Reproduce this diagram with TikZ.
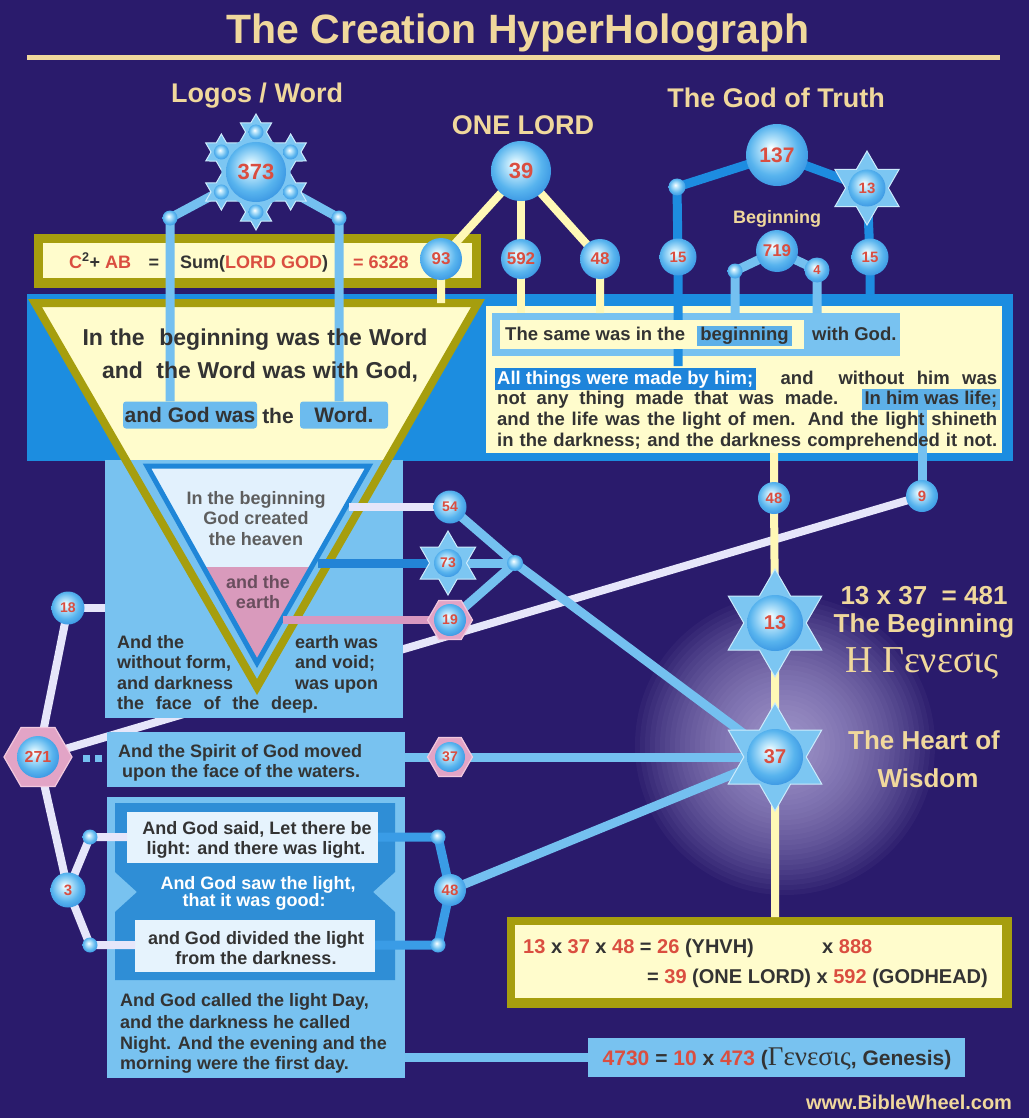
\documentclass[tikz,border=0pt]{standalone}
\usepackage{fontspec}
\setmainfont{Liberation Sans}
\newfontfamily\grk{Liberation Serif}
\usetikzlibrary{shapes.geometric}
\pgfdeclarelayer{Lzero}
\pgfdeclarelayer{Lone}
\pgfdeclarelayer{Ltwo}
\pgfsetlayers{Lzero,Lone,Ltwo,main}
\definecolor{bg}{HTML}{2A1B6C}
\definecolor{tan}{HTML}{F0D89C}
\definecolor{band}{HTML}{1C8DE0}
\definecolor{lbox}{HTML}{78C2F0}
\definecolor{cream}{HTML}{FFFCCC}
\definecolor{olive}{HTML}{A69E0E}
\definecolor{numred}{HTML}{DA4E40}
\definecolor{txt}{HTML}{333333}
\definecolor{gtxt}{HTML}{5E5E5E}
\definecolor{pinktxt}{HTML}{6A4E5E}
\definecolor{lbline}{HTML}{74C0F0}
\definecolor{mbline}{HTML}{1D8CE0}
\definecolor{mbline2}{HTML}{3A9CE6}
\definecolor{tri73}{HTML}{2384D6}
\definecolor{crline}{HTML}{FFF8B6}
\definecolor{whline}{HTML}{E6E6FA}
\definecolor{pkline}{HTML}{D898C0}
\definecolor{hlblue}{HTML}{1E84DA}
\definecolor{hllight}{HTML}{5DB0E8}
\definecolor{hllight2}{HTML}{6CBBEE}
\definecolor{pinkfill}{HTML}{D99ABC}
\definecolor{heaven}{HTML}{E2F1FD}
\definecolor{triblue}{HTML}{1F86D8}
\definecolor{hexpink}{HTML}{E2A4C6}
\definecolor{hexedge}{HTML}{F2C8DE}
\definecolor{starfill}{HTML}{7CC6F2}
\definecolor{staredge}{HTML}{CDEBFC}
\definecolor{dkbox}{HTML}{2F8ED6}
\definecolor{wbox}{HTML}{E6F3FD}
\definecolor{bubhi}{HTML}{C4EAFC}
\definecolor{bubmid}{HTML}{58B4EE}
\definecolor{bubedge}{HTML}{338FE0}
\definecolor{bubrim}{HTML}{5AAEEA}
\definecolor{glowc}{HTML}{D2C8F4}
\pgfdeclareradialshading{bubble}{\pgfpoint{-5bp}{6bp}}{color(0bp)=(white); color(6bp)=(bubhi); color(20bp)=(bubmid); color(31bp)=(bubedge); color(35bp)=(bubrim); color(50bp)=(bubrim)}
\newcommand\myfs[1]{\fontsize{#1}{#1}\selectfont}
\newcommand\rn[1]{\textcolor{numred}{#1}}
\setlength{\fboxsep}{2.5pt}
\tikzset{
 bub/.style={circle, shade, shading=bubble, inner sep=0pt, outer sep=0pt, minimum size=#1, text=numred, font=\bfseries\myfs{15}},
 dotn/.style={circle, shade, shading=bubble, inner sep=0pt, minimum size=15pt},
 hexn/.style={regular polygon, regular polygon sides=6, fill=hexpink, draw=hexedge, line width=1.2pt, inner sep=0pt, minimum size=#1},
 hstar/.style={star, star points=6, star point ratio=1.732, fill=starfill, draw=staredge, line width=1pt, inner sep=0pt, minimum size=#1},
 hdr/.style={text=tan, font=\bfseries\myfs{27}, anchor=base, inner sep=0pt},
 tanr/.style={text=tan, font=\bfseries\myfs{26}, anchor=base, inner sep=0pt},
 body/.style={text=txt, font=\bfseries\myfs{18}, anchor=base west, inner sep=0pt},
 bodyp/.style={text=txt, font=\bfseries\myfs{18.5}, anchor=base west, inner sep=0pt},
 bodyc/.style={text=txt, font=\bfseries\myfs{18}, anchor=base, inner sep=0pt},
 tri/.style={text=txt, font=\bfseries\myfs{23}, anchor=base, inner sep=0pt},
 inn/.style={text=gtxt, font=\bfseries\myfs{18}, anchor=base, inner sep=0pt},
 boxn/.style={rectangle, inner sep=0pt, outer sep=0pt, anchor=north west, fill=#1},
 hlbox/.style={fill=hllight2, rounded corners=3pt, inner sep=0pt, text=txt, font=\bfseries\myfs{21}},
 lbl/.style={draw=lbline, line width=9pt},
 mbl/.style={draw=mbline, line width=9pt},
 crl/.style={draw=crline, line width=8pt},
 whl/.style={draw=whline, line width=8pt},
 pkl/.style={draw=pkline, line width=8pt},
}
\begin{document}
\begin{tikzpicture}[x=1pt,y=-1pt]
\begin{pgfonlayer}{Lzero}
\fill[bg] (0,0) rectangle (1029,1118);
\foreach \r in {150,145,...,10} \fill[glowc, opacity=0.045] (785,745) circle[radius=\r pt];
\end{pgfonlayer}
\useasboundingbox (0,0) rectangle (1029,1118);

% ---------- boxes ----------
\begin{pgfonlayer}{Lone}
\node[boxn=olive, minimum width=447pt, minimum height=54pt] (eqouter) at (34,234) {};
\node[boxn=cream, minimum width=429pt, minimum height=35pt] (eqinner) at (43,243) {};
\node[boxn=band, minimum width=986pt, minimum height=167pt] (band) at (27,294) {};
\node[boxn=cream, minimum width=516pt, minimum height=147pt] (parabox) at (486,306) {};
\node[boxn=lbox, minimum width=408pt, minimum height=43pt] (samereg) at (492,313) {};
\fill[cream] (35,303) -- (478,303) -- (257,687) -- cycle;
\node[boxn=lbox, minimum width=298pt, minimum height=258pt] (earthbox) at (105,460) {};
\node[boxn=lbox, minimum width=298pt, minimum height=55pt] (spiritbox) at (107,732) {};
\node[boxn=lbox, minimum width=298pt, minimum height=281pt] (lowbox) at (107,797) {};
\fill[dkbox] (115,803) -- (395,803) -- (395,872) -- (373,892) -- (395,912) -- (395,980)
   -- (115,980) -- (115,912) -- (137,892) -- (115,872) -- cycle;
\node[boxn=wbox, minimum width=251pt, minimum height=51pt] (whitetop) at (127,812) {};
\node[boxn=wbox, minimum width=240pt, minimum height=52pt] (whitebot) at (135,920) {};
\fill[heaven] (147,466) -- (369,466) -- (257,663) -- cycle;
\begin{scope}
\clip (147,466) -- (369,466) -- (257,663) -- cycle;
\fill[pinkfill] (100,567) rectangle (400,700);
\end{scope}
\draw[triblue, line width=5pt, line join=miter] (147,466) -- (369,466) -- (257,663) -- cycle;
\draw[olive, line width=8pt, line join=miter] (35,303) -- (478,303) -- (257,687) -- cycle;
\node[boxn=olive, minimum width=505pt, minimum height=91pt] (mathouter) at (507,917) {};
\node[boxn=cream, minimum width=487pt, minimum height=73pt] (mathinner) at (515,925) {};
\node[boxn=lbox, minimum width=377pt, minimum height=39pt] (gbox) at (588,1038) {};
\end{pgfonlayer}

% ---------- titles ----------
\node[text=tan, font=\bfseries\myfs{41}, anchor=base, inner sep=0pt] (title) at (518,44) {The Creation HyperHolograph};
\draw[tan, line width=5pt] (27,58) -- (1000,58);
\node[hdr] (hlogos) at (257,103) {Logos / Word};
\node[hdr] (hone) at (523,135) {ONE LORD};
\node[hdr] (htruth) at (776,108) {The God of Truth};
\node[text=tan, font=\bfseries\myfs{18}, anchor=base, inner sep=0pt] (beg) at (777,223) {Beginning};

% ---------- snowflake 373 ----------
\node[hstar=36pt] (sfA) at (256,132) {};
\node[hstar=36pt] (sfB) at (290.64,152) {};
\node[hstar=36pt] (sfC) at (290.64,192) {};
\node[hstar=36pt] (sfD) at (256,212) {};
\node[hstar=36pt] (sfE) at (221.36,192) {};
\node[hstar=36pt] (sfF) at (221.36,152) {};
\fill[starfill] (256,132) -- (290.64,152) -- (290.64,192) -- (256,212) -- (221.36,192) -- (221.36,152) -- cycle;
\node[bub=15pt] (sbA) at (256,132) {};
\node[bub=15pt] (sbB) at (290.64,152) {};
\node[bub=15pt] (sbC) at (290.64,192) {};
\node[bub=15pt] (sbD) at (256,212) {};
\node[bub=15pt] (sbE) at (221.36,192) {};
\node[bub=15pt] (sbF) at (221.36,152) {};
\node[bub=60pt, font=\bfseries\myfs{22}] (b373) at (256,172) {373};
\node[dotn] (dotL) at (170,218) {};
\node[dotn] (dotR) at (339,218) {};

% ---------- ONE LORD ----------
\node[bub=60pt, font=\bfseries\myfs{22}] (b39) at (521,171) {39};
\node[bub=42pt, font=\bfseries\myfs{17}] (b93) at (441,259) {93};
\node[bub=40pt, font=\bfseries\myfs{17}] (b592) at (521,259) {592};
\node[bub=40pt, font=\bfseries\myfs{17}] (b48t) at (600,259) {48};

% ---------- God of Truth ----------
\node[bub=62pt, font=\bfseries\myfs{21}] (b137) at (777,155) {137};
\node[dotn, minimum size=17pt] (dotG) at (677,187) {};
\node[bub=37pt] (b15L) at (678,257) {15};
\node[hstar=74pt] (s13t) at (867,188) {};
\node[bub=37pt] (b13t) at (867,188) {13};
\node[bub=37pt] (b15R) at (870,257) {15};
\node[bub=42pt, font=\bfseries\myfs{17}] (b719) at (777,251) {719};
\node[dotn] (dotB) at (735,271) {};
\node[bub=25pt, font=\bfseries\myfs{13}] (b4) at (817,270) {4};

% ---------- equation box ----------
\node[body] (eq1) at (69,268) {\rn{C}\textsuperscript{2}+ \rn{AB}};
\node[bodyc] (eq2) at (154,268) {=};
\node[body] (eq3) at (180,268) {Sum(\rn{LORD GOD})};
\node[body] (eq4) at (353,268) {\rn{= 6328}};

% ---------- triangle ----------
\node[tri] (t1) at (255,345) {\makebox[345pt][s]{In the\ \ beginning was the Word}};
\node[tri] (t2) at (260,378) {\makebox[316pt][s]{and\ \ the Word was with God,}};
\node[hlbox, minimum width=134pt, minimum height=27pt] (gwas) at (190,415) {and God was};
\node[tri, font=\bfseries\myfs{21}] (tthe) at (278,423) {the};
\node[hlbox, minimum width=88pt, minimum height=27pt] (wordbox) at (344,415) {Word.};
\node[inn] (i1) at (256,504) {In the beginning};
\node[inn] (i2) at (256,524) {God created};
\node[inn] (i3) at (256,545) {the heaven};
\node[inn, text=pinktxt] (i4) at (258,588) {and the};
\node[inn, text=pinktxt] (i5) at (258,608) {earth};
\node[body] (e1) at (117,648) {And the};
\node[body] (e2) at (117,668) {without form,};
\node[body] (e3) at (117,689) {and darkness};
\node[body] (e4) at (117,709) {\makebox[201pt][s]{the face of the deep.}};
\node[body] (e5) at (295,648) {earth was};
\node[body] (e6) at (295,668) {and void;};
\node[body] (e7) at (295,689) {was upon};

% ---------- right text block ----------
\node[boxn=cream, minimum width=304pt, minimum height=29pt] (samecream) at (500,320) {};
\node[bodyp] (ps) at (505,340) {The same was in the};
\node[fill=hllight, minimum width=95pt, minimum height=20pt, inner sep=0pt, text=txt, font=\bfseries\myfs{18.5}] (begbox) at (744.5,336) {beginning};
\node[bodyp] (pw) at (812,340) {with God.};
\node[bodyp] (p1) at (494.5,384) {\makebox[502.5pt][s]{\colorbox{hlblue}{\textcolor{white}{All things were made by him;}}\ \ and\ \ without him was}};
\node[bodyp] (p2) at (497,404.5) {\makebox[502.5pt][s]{not any thing made that was made. \colorbox{hllight}{In him was life;}}};
\node[bodyp] (p3) at (497,425) {\makebox[500pt][s]{and the life was the light of men. And the light shineth}};
\node[bodyp] (p4) at (497,446) {\makebox[500pt][s]{in the darkness; and the darkness comprehended it not.}};

% ---------- left / middle nodes ----------
\node[bub=33pt, font=\bfseries\myfs{14}] (b54) at (450,507) {54};
\node[hstar=64pt] (s73) at (448,563) {};
\node[bub=28pt, font=\bfseries\myfs{14}] (b73) at (448,563) {73};
\node[hexn=45pt] (h19) at (450,620) {};
\node[bub=32pt, font=\bfseries\myfs{14}] (b19) at (450,620) {19};
\node[dotn, minimum size=16pt] (dotM) at (515,563) {};
\node[bub=33pt, font=\bfseries\myfs{14}] (b18) at (68,608) {18};
\node[hexn=68pt] (h271) at (38,757) {};
\node[bub=42pt, font=\bfseries\myfs{16}] (b271) at (38,757) {271};
\node[fill=lbline, minimum size=7pt, inner sep=0pt] (sq1) at (86,758) {};
\node[fill=lbline, minimum size=7pt, inner sep=0pt] (sq2) at (98,758) {};
\node[hexn=45pt] (h37) at (450,757) {};
\node[bub=30pt, font=\bfseries\myfs{14}] (b37h) at (450,757) {37};
\node[bub=35pt] (b3) at (68,890) {3};
\node[dotn] (dotLa) at (90,837) {};
\node[dotn] (dotLb) at (90,945) {};
\node[dotn] (dotRa) at (438,837) {};
\node[dotn] (dotRb) at (438,945) {};
\node[bub=32pt] (b48l) at (450,890) {48};

% ---------- lower box texts ----------
\node[body] (sp1) at (118,757) {And the Spirit of God moved};
\node[body] (sp2) at (122,777) {upon the face of the waters.};
\node[bodyc] (l1) at (257,834) {And God said, Let there be};
\node[bodyc] (l2) at (256,854) {light: and there was light.};
\node[bodyc, text=white] (l3) at (258,889) {And God saw the light,};
\node[bodyc, text=white] (l4) at (254,906) {that it was good:};
\node[bodyc] (l5) at (256,944) {and God divided the light};
\node[bodyc] (l6) at (256,964) {from the darkness.};
\node[body] (l7) at (120,1006) {And God called the light Day,};
\node[body] (l8) at (120,1028) {and the darkness he called};
\node[body] (l9) at (120,1049) {Night. And the evening and the};
\node[body] (l10) at (120,1069) {morning were the first day.};

% ---------- right column ----------
\node[bub=32pt] (b48m) at (774,498) {48};
\node[bub=32pt] (b9) at (922,496) {9};
\node[hstar=108pt] (s13) at (775,623) {};
\node[bub=56pt, font=\bfseries\myfs{20}] (b13) at (775,623) {13};
\node[hstar=108pt] (s37) at (775,757) {};
\node[bub=56pt, font=\bfseries\myfs{20}] (b37) at (775,757) {37};
\node[tanr] (r1) at (924,604) {13 x 37\ \ = 481};
\node[tanr] (r2) at (924,632) {The Beginning};
\node[text=tan, font=\grk\myfs{38}, anchor=base, inner sep=0pt] (r3) at (922,672) {Η Γενεσις};
\node[tanr] (r4) at (924,749) {The Heart of};
\node[tanr] (r5) at (928,787) {Wisdom};

% ---------- bottom boxes ----------
\node[body, font=\bfseries\myfs{20}] (m1) at (523,953) {\rn{13} x \rn{37} x \rn{48} = \rn{26} (YHVH)};
\node[body, font=\bfseries\myfs{20}] (m2) at (822,953) {x \rn{888}};
\node[body, font=\bfseries\myfs{20}] (m3) at (647,983) {= \rn{39} (ONE LORD) x \rn{592} (GODHEAD)};
\node[text=txt, font=\bfseries\myfs{21}, anchor=base, inner sep=0pt] (gtxt) at (777,1065) {\rn{4730} = \rn{10} x \rn{473} ({\mdseries\grk\myfs{27}Γενεσις}, Genesis)};
\node[text=tan, font=\bfseries\myfs{20}, anchor=base, inner sep=0pt] (web) at (909,1109) {www.BibleWheel.com};

% ---------- free ends ----------
\coordinate (tritop) at (441,303);
\coordinate (allpt) at (678,366);
\coordinate (lifept) at (922,405);
\coordinate (heavenR) at (349,507);
\coordinate (c73) at (318,563);
\coordinate (c19) at (283,620);

% ---------- connectors under boxes ----------
\begin{pgfonlayer}{Lzero}
\draw[whl] (h271.center) -- (b9.center);
\end{pgfonlayer}

% ---------- connectors ----------
\begin{pgfonlayer}{Ltwo}
\draw[lbl] (b373.center) -- (dotL.center) -- (dotL |- gwas.north);
\draw[lbl] (b373.center) -- (dotR.center) -- (dotR |- wordbox.north);
\draw[crl] (b39.center) -- (b93.center) -- (b93 |- tritop);
\draw[crl] (b39.center) -- (b592.center) -- (b592 |- samereg.north);
\draw[crl] (b39.center) -- (b48t.center) -- (b48t |- samereg.north);
\draw[mbl] (b137.center) -- (dotG.center) -- (b15L.center) -- (b15L |- allpt);
\draw[mbl] (b137.center) -- (s13t.center) -- (b15R.center) -- (b15R |- band.north);
\draw[lbl] (b719.center) -- (dotB.center) -- (dotB |- begbox.north);
\draw[lbl] (b719.center) -- (b4.center) -- (b4 |- samereg.north);
\draw[crl] (parabox.south -| b48m) -- (b48m.center) -- (s13.center) -- (s37.center) -- (b37 |- mathouter.north);
\draw[lbl] (b9.center) -- (b9 |- lifept);
\draw[whl] (heavenR) -- (b54.center);
\draw[draw=tri73, line width=9pt] (c73) -- (s73.center);
\draw[pkl] (c19) -- (h19.center);
\draw[lbl] (b54.center) -- (dotM.center) -- (s37.center);
\draw[lbl] (s73.center) -- (dotM.center);
\draw[lbl] (h19.center) -- (dotM.center);
\draw[whl] (b18.center) -- (b18 -| earthbox.west);
\draw[whl] (b18.center) -- (h271.center);
\draw[whl] (h271.center) -- (b3.center) -- (dotLa.center) -- (dotLa -| whitetop.west);
\draw[whl] (b3.center) -- (dotLb.center) -- (dotLb -| whitebot.west);
\draw[draw=mbline2, line width=9pt] (dotRa -| whitetop.east) -- (dotRa.center) -- (b48l.center) -- (dotRb.center) -- (dotRb -| whitebot.east);
\draw[lbl] (b48l.center) -- (s37.center);
\draw[lbl] (spiritbox.east |- h37) -- (h37.center) -- (s37.center);
\draw[lbl] (lowbox.east |- gbox) -- (gbox.west);
\end{pgfonlayer}
\end{tikzpicture}
\end{document}
